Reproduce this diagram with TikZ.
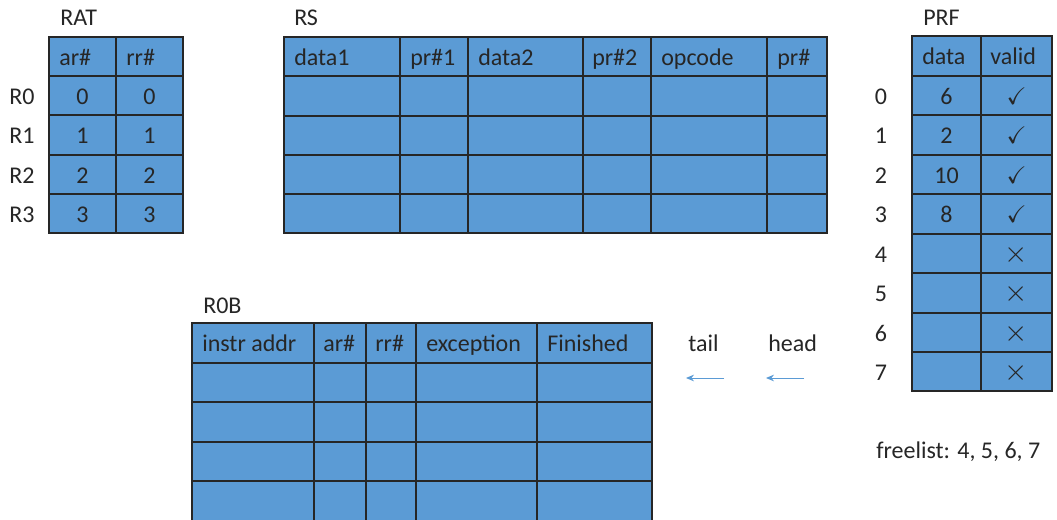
\documentclass[tikz,border=0pt]{standalone}
\usepackage{fontspec}
\usepackage{amssymb}
\usetikzlibrary{arrows.meta}
\setmainfont{Carlito}
\definecolor{cellblue}{HTML}{5B9BD5}
\definecolor{gridline}{HTML}{262626}
\definecolor{txt}{HTML}{262626}

\tikzset{
	tbl/.style={fill=cellblue, draw=gridline, line width=1pt},
	lbl/.style={inner sep=0pt, text=txt, text height=0.9em, text depth=0em, yshift=-2pt},
	hdr/.style={lbl, anchor=west},
	ptr/.style={-{Stealth[length=6pt,width=5pt]}, draw=cellblue, line width=0.7pt}
}

\begin{document}
\begin{tikzpicture}[x=0.75pt, y=-0.75pt, font=\fontsize{18}{22}\selectfont]
	\useasboundingbox (0,0) rectangle (1057,520);
	% RAT
	\node[hdr] (rat) at (60,17) {RAT};
	\filldraw[tbl] (49,37) rectangle (183,233);
	\foreach \y in {76,115,155,194} \draw[tbl] (49,\y) -- (183,\y);
	\draw[tbl] (116,37) -- (116,233);
	\node[hdr] (ratar) at (59,56.5) {ar\#};
	\node[hdr] (ratrr) at (126,56.5) {rr\#};
	\foreach \i/\y in {0/95.5,1/135,2/174.5,3/213.5} {
		\node[lbl] (reg\i) at (22,\y) {R\i};
		\node[lbl] (ar\i) at (82.5,\y) {\i};
		\node[lbl] (rr\i) at (149.5,\y) {\i};
	}
	% RS
	\node[hdr] (rs) at (294,17) {RS};
	\filldraw[tbl] (284,37) rectangle (827,233);
	\foreach \y in {76,116,155,194} \draw[tbl] (284,\y) -- (827,\y);
	\foreach \x in {400,468,583,651,767} \draw[tbl] (\x,37) -- (\x,233);
	\node[hdr] (data1) at (294,56.5) {data1};
	\node[hdr] (pr1) at (410,56.5) {pr\#1};
	\node[hdr] (data2) at (478,56.5) {data2};
	\node[hdr] (pr2) at (592,56.5) {pr\#2};
	\node[hdr] (opcode) at (661,56.5) {opcode};
	\node[hdr] (prd) at (777,56.5) {pr\#};
	% PRF
	\node[hdr] (prf) at (923,17) {PRF};
	\filldraw[tbl] (912,36) rectangle (1052,391);
	\foreach \y in {76,115,155,194,234,273,313,352} \draw[tbl] (912,\y) -- (1052,\y);
	\draw[tbl] (981,36) -- (981,391);
	\node[hdr] (prfdata) at (922,56) {data};
	\node[hdr] (prfvalid) at (990,56) {valid};
	\foreach \i/\y/\d/\v in {0/95.5/6/{$\checkmark$},1/135/2/{$\checkmark$},2/174.5/10/{$\checkmark$},3/214/8/{$\checkmark$},
		4/253.5//{\scalebox{1.3}{$\times$}},5/293//{\scalebox{1.3}{$\times$}},6/332.5//{\scalebox{1.3}{$\times$}},7/371.5//{\scalebox{1.3}{$\times$}}} {
		\node[lbl] (idx\i) at (881,\y) {\i};
		\node[lbl] (val\i) at (946.5,\y) {\d};
		\node[lbl] (ok\i) at (1016.5,\y) {\v};
	}
	\node[hdr] (freelist) at (876,450) {freelist: 4, 5, 6, 7};
	% ROB
	\node[hdr] (rob) at (203,305) {R0B};
	\filldraw[tbl] (192,323) rectangle (652,521);
	\foreach \y in {363,402,442,481} \draw[tbl] (192,\y) -- (652,\y);
	\foreach \x in {314,366,416,537} \draw[tbl] (\x,323) -- (\x,521);
	\node[hdr] (instr) at (202,343) {instr addr};
	\node[hdr] (robar) at (323,343) {ar\#};
	\node[hdr] (robrr) at (375,343) {rr\#};
	\node[hdr] (except) at (426,343) {exception};
	\node[hdr] (finished) at (547,343) {Finished};
	% pointers
	\node[hdr] (tail) at (688,343) {tail};
	\node[hdr] (head) at (768,343) {head};
	\coordinate (tailfrom) at (724,378);
	\coordinate (tailto) at (686,378);
	\coordinate (headfrom) at (804,378);
	\coordinate (headto) at (766,378);
	\draw[ptr] (tailfrom) -- (tailto);
	\draw[ptr] (headfrom) -- (headto);
\end{tikzpicture}
\end{document}
